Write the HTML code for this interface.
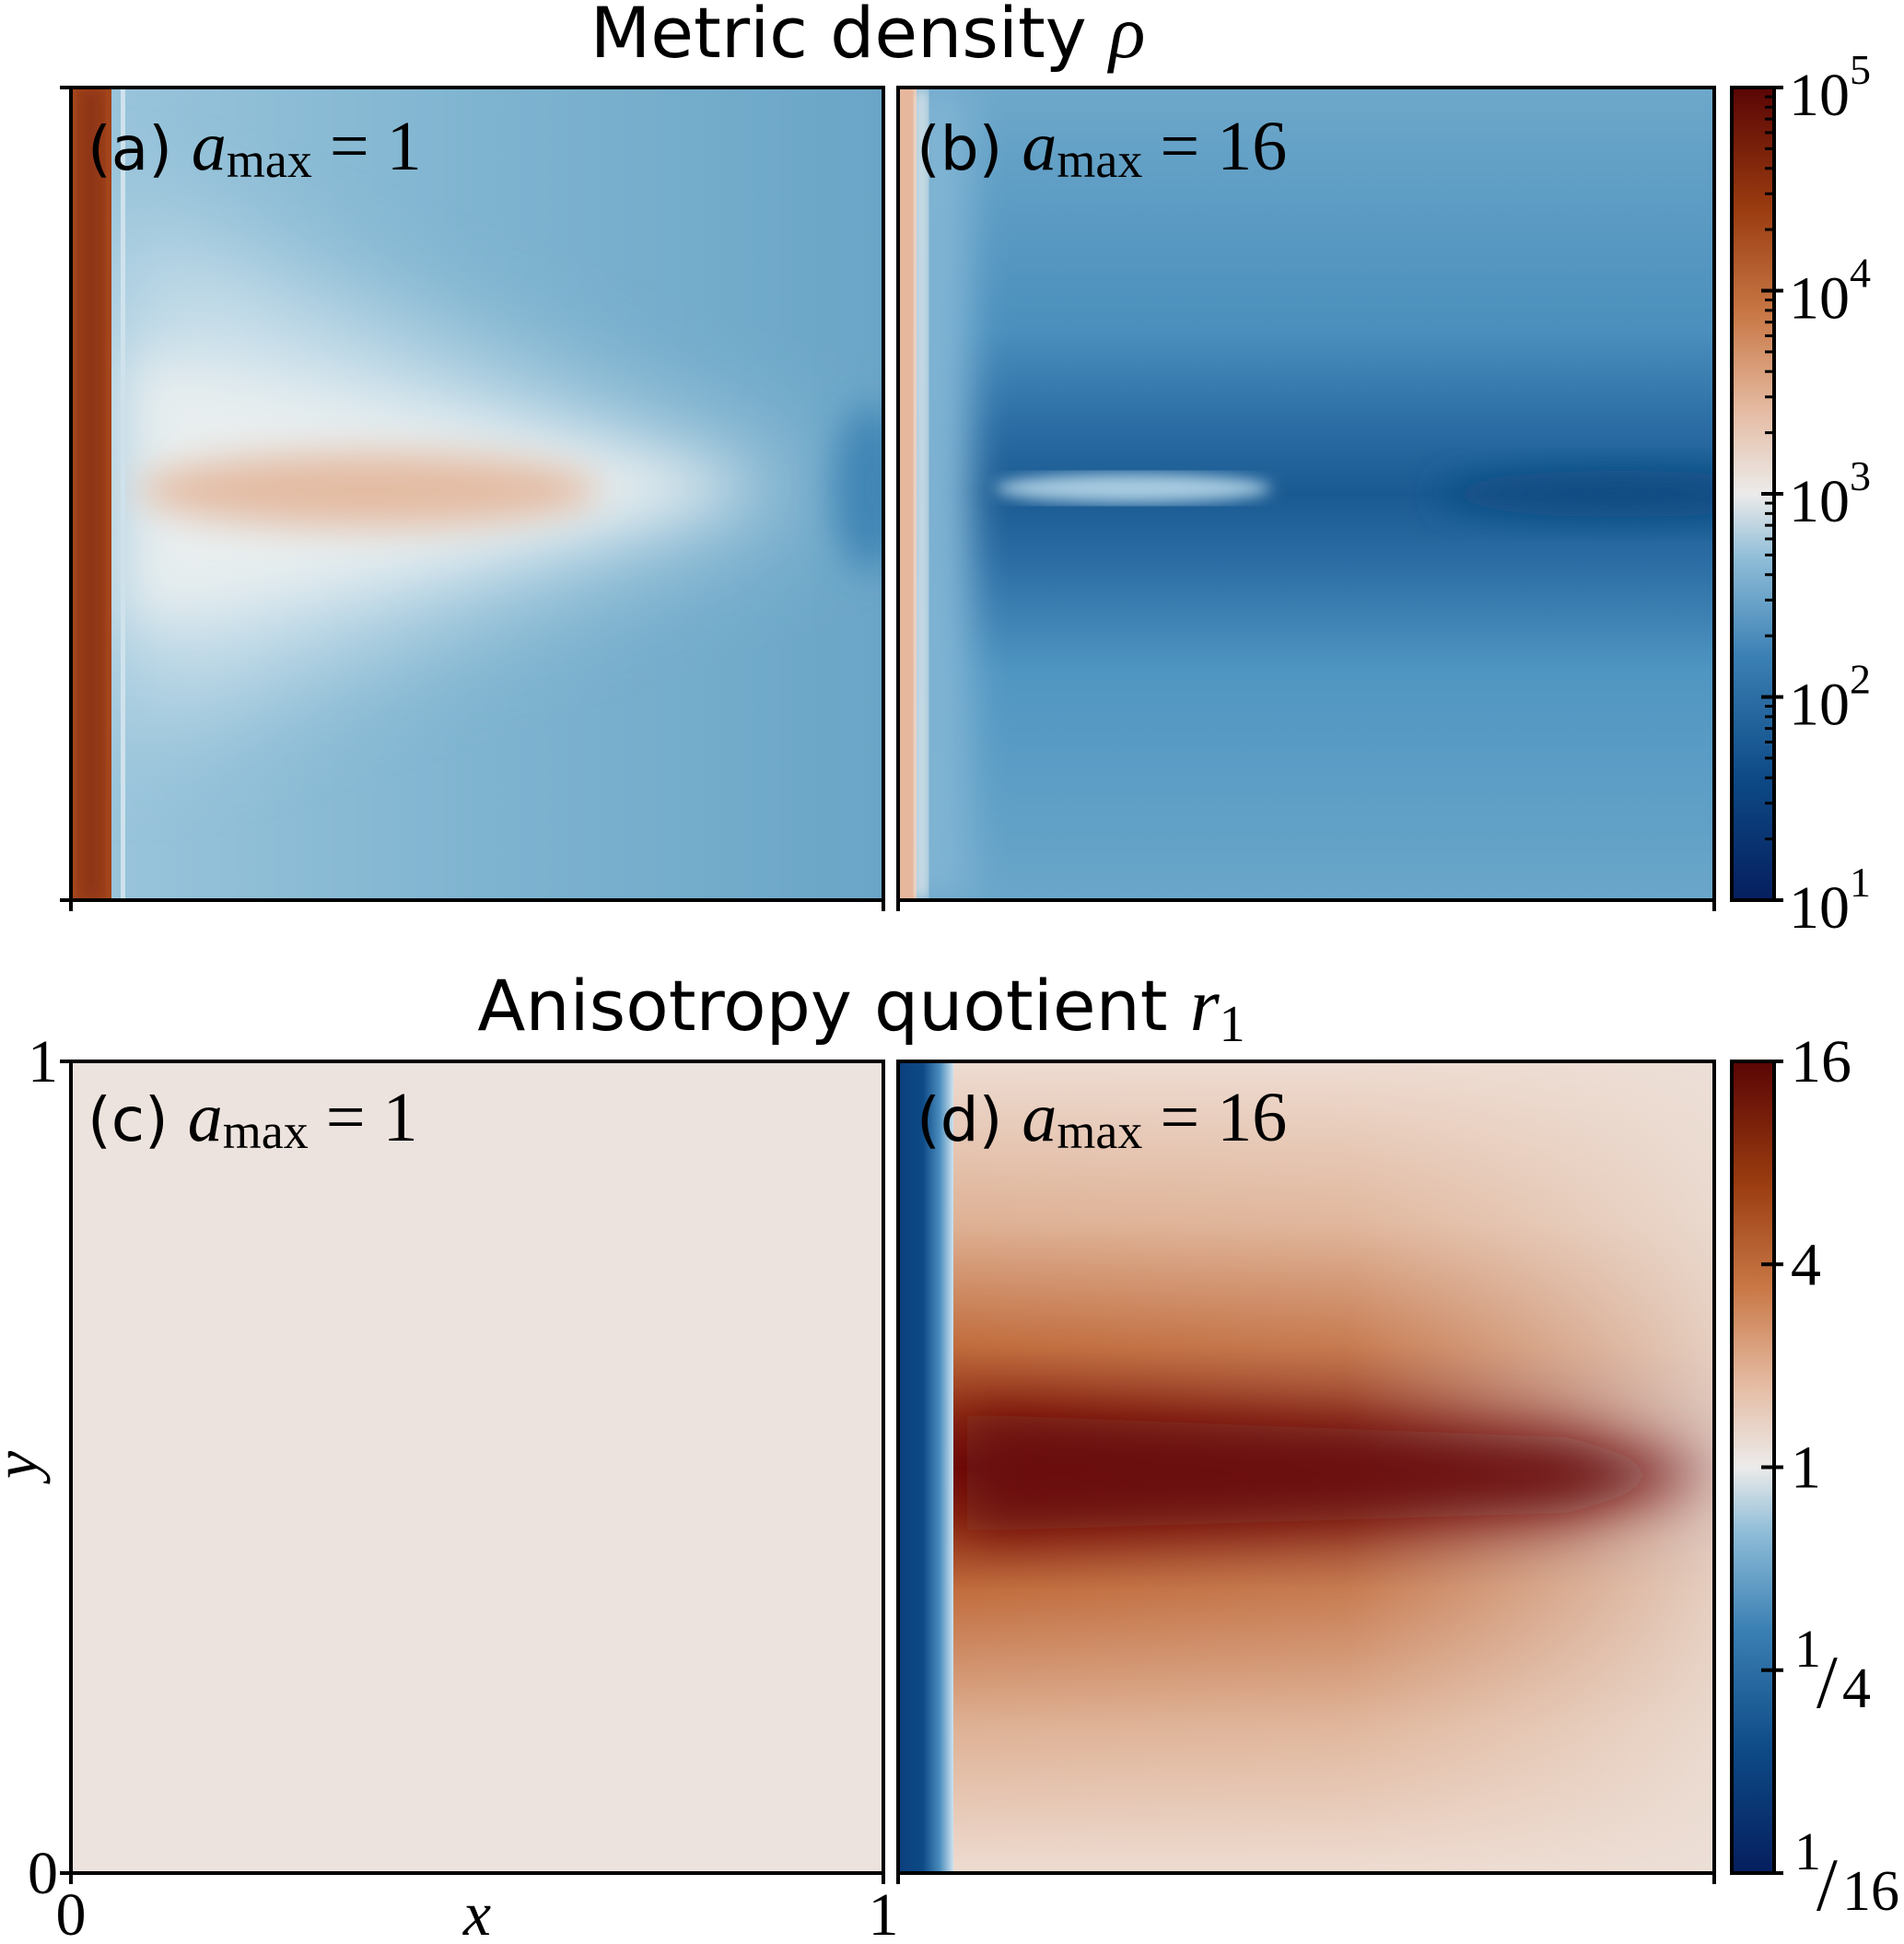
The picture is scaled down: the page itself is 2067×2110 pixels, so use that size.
<!DOCTYPE html>
<html><head><meta charset="utf-8"><style>
html,body{margin:0;padding:0;background:#fff;}
svg{display:block;}
.serif{font-family:"Liberation Serif","DejaVu Serif",serif;}
.sans{font-family:"DejaVu Sans","Liberation Sans",sans-serif;}
</style></head><body>
<svg id="fig" width="2067" height="2110" viewBox="0 0 2067 2110" xmlns="http://www.w3.org/2000/svg">
<defs>
  <linearGradient id="cmap" x1="0" y1="1" x2="0" y2="0">
    <stop offset="0" stop-color="#061e5e"/>
    <stop offset="0.15" stop-color="#0d4a86"/>
    <stop offset="0.3" stop-color="#3b80b4"/>
    <stop offset="0.42" stop-color="#8fbdd8"/>
    <stop offset="0.5" stop-color="#ecebea"/>
    <stop offset="0.6" stop-color="#e5bca4"/>
    <stop offset="0.72" stop-color="#c97846"/>
    <stop offset="0.85" stop-color="#9a3c10"/>
    <stop offset="1" stop-color="#5a0505"/>
  </linearGradient>
  <filter id="blur20" x="-50%" y="-50%" width="200%" height="200%"><feGaussianBlur stdDeviation="20"/></filter>
  <filter id="blur8"><feGaussianBlur stdDeviation="8"/></filter>
  <filter id="blur30" x="-50%" y="-50%" width="200%" height="200%"><feGaussianBlur stdDeviation="30"/></filter>
  <filter id="blur60" x="-50%" y="-50%" width="200%" height="200%"><feGaussianBlur stdDeviation="60"/></filter>
  <clipPath id="clipA"><rect x="77" y="95" width="882" height="882"/></clipPath>
  <clipPath id="clipB"><rect x="975" y="95" width="886" height="882"/></clipPath>
  <clipPath id="clipD"><rect x="975" y="1152" width="886" height="881"/></clipPath>
  <linearGradient id="aBase" x1="0" y1="0" x2="1" y2="0">
    <stop offset="0" stop-color="#9cc6dc"/><stop offset="0.5" stop-color="#7fb4d0"/><stop offset="1" stop-color="#6aa5c7"/>
  </linearGradient>
  <linearGradient id="bBase" x1="0" y1="0" x2="0" y2="1">
    <stop offset="0" stop-color="#6ea8ca"/><stop offset="0.3" stop-color="#4a8fbd"/>
    <stop offset="0.42" stop-color="#2a6ca3"/><stop offset="0.5" stop-color="#1a5a92"/>
    <stop offset="0.58" stop-color="#2a6ca3"/><stop offset="0.72" stop-color="#5096c2"/>
    <stop offset="1" stop-color="#6aa6c9"/>
  </linearGradient>
  <linearGradient id="dBase" x1="0" y1="0" x2="0" y2="1">
    <stop offset="0" stop-color="#eedcd2"/><stop offset="0.2" stop-color="#deb093"/>
    <stop offset="0.35" stop-color="#c06a3a"/><stop offset="0.44" stop-color="#8a2810"/>
    <stop offset="0.5" stop-color="#6a0a08"/><stop offset="0.56" stop-color="#8a2810"/>
    <stop offset="0.65" stop-color="#c06a3a"/><stop offset="0.82" stop-color="#deb093"/>
    <stop offset="1" stop-color="#eedcd2"/>
  </linearGradient>
  <linearGradient id="dFade" x1="0" y1="0" x2="1" y2="0">
    <stop offset="0" stop-color="#eedcd2" stop-opacity="0"/><stop offset="0.55" stop-color="#eedcd2" stop-opacity="0.15"/><stop offset="1" stop-color="#ece0d8" stop-opacity="0.85"/>
  </linearGradient>
  <linearGradient id="dBlue" x1="0" y1="0" x2="1" y2="0">
    <stop offset="0" stop-color="#0b3f7c"/><stop offset="0.45" stop-color="#0d4a86"/><stop offset="0.75" stop-color="#4a8cbd"/><stop offset="1" stop-color="#cde2ee"/>
  </linearGradient>
</defs>

<!-- Panel a -->
<g clip-path="url(#clipA)">
  <rect x="77" y="95" width="882" height="882" fill="url(#aBase)"/>
  <polygon points="130,240 700,470 900,528 700,590 130,790" fill="#cfe2ec" filter="url(#blur60)"/>
  <polygon points="140,380 650,490 820,528 650,570 140,680" fill="#e8eeef" filter="url(#blur30)"/>
  <ellipse cx="945" cy="530" rx="40" ry="90" fill="#3f85b5" filter="url(#blur20)"/>
  <ellipse cx="400" cy="532" rx="250" ry="40" fill="#e4bba3" filter="url(#blur20)"/>
  <rect x="77" y="95" width="44" height="882" fill="#a3441a"/>
  <rect x="86" y="95" width="26" height="882" fill="#8e3512" filter="url(#blur8)"/>
  <rect x="131" y="95" width="5" height="882" fill="#cfe2ec"/>
</g>
<rect x="77" y="95" width="882" height="882" fill="none" stroke="#000" stroke-width="4"/>

<!-- Panel b -->
<g clip-path="url(#clipB)">
  <rect x="975" y="95" width="886" height="882" fill="url(#bBase)"/>
  <ellipse cx="1760" cy="536" rx="200" ry="25" fill="#0d4a80" filter="url(#blur20)"/>
  <ellipse cx="1230" cy="530" rx="150" ry="16" fill="#a9cce1" filter="url(#blur8)"/>
  <rect x="975" y="95" width="80" height="882" fill="#7fb3d3" filter="url(#blur20)"/>
  <rect x="975" y="95" width="20" height="882" fill="#e6b79c"/>
  <rect x="993" y="95" width="14" height="882" fill="#edefee" filter="url(#blur8)"/>
</g>
<rect x="975" y="95" width="886" height="882" fill="none" stroke="#000" stroke-width="4"/>

<!-- Panel c -->
<rect x="77" y="1152" width="882" height="881" fill="#ede3de" stroke="#000" stroke-width="4"/>

<!-- Panel d -->
<g clip-path="url(#clipD)">
  <rect x="975" y="1152" width="886" height="881" fill="url(#dBase)"/>
  <rect x="975" y="1152" width="886" height="881" fill="url(#dFade)"/>
  <polygon points="1050,1535 1700,1560 1861,1601 1700,1642 1050,1662" fill="#6a0a08" filter="url(#blur30)"/>
  <rect x="975" y="1152" width="60" height="881" fill="url(#dBlue)"/>
</g>
<rect x="975" y="1152" width="886" height="881" fill="none" stroke="#000" stroke-width="4"/>

<!-- colorbars -->
<rect x="1880" y="95" width="46" height="882" fill="url(#cmap)" stroke="#000" stroke-width="4"/>
<rect x="1880" y="1152" width="46" height="881" fill="url(#cmap)" stroke="#000" stroke-width="4"/>

<!-- titles -->
<text x="942" y="62" text-anchor="middle" class="sans" font-size="76">Metric density <tspan class="serif" font-style="italic" font-size="82">ρ</tspan></text>
<text x="935" y="1118" text-anchor="middle" class="sans" font-size="76">Anisotropy quotient <tspan class="serif" font-style="italic" font-size="82">r</tspan><tspan class="serif" font-size="56" dy="12">1</tspan></text>

<!-- panel labels -->
<g class="sans" font-size="66">
  <text x="95" y="184">(a) <tspan class="serif" font-style="italic" font-size="76">a</tspan><tspan class="serif" font-size="54" dy="8">max</tspan><tspan class="serif" font-size="76" dy="-8"> = 1</tspan></text>
  <text x="995" y="184">(b) <tspan class="serif" font-style="italic" font-size="76">a</tspan><tspan class="serif" font-size="54" dy="8">max</tspan><tspan class="serif" font-size="76" dy="-8"> = 16</tspan></text>
  <text x="95" y="1238">(c) <tspan class="serif" font-style="italic" font-size="76">a</tspan><tspan class="serif" font-size="54" dy="8">max</tspan><tspan class="serif" font-size="76" dy="-8"> = 1</tspan></text>
  <text x="995" y="1238">(d) <tspan class="serif" font-style="italic" font-size="76">a</tspan><tspan class="serif" font-size="54" dy="8">max</tspan><tspan class="serif" font-size="76" dy="-8"> = 16</tspan></text>
</g>

<!-- axis labels -->
<text x="518" y="2100" text-anchor="middle" class="serif" font-style="italic" font-size="68">x</text>
<text transform="translate(40,1590) rotate(-90)" text-anchor="middle" class="serif" font-style="italic" font-size="68">y</text>
<g id="ticks"></g>
</svg>
<script>
const xTickVals = [0, 1];
const xTickLabels = ['0', '1'];
const yTickVals = [0, 1];
const yTickLabels = ['0', '1'];
const rhoExponents = [1, 2, 3, 4, 5];
const rhoMinorPerDecade = [2, 3, 4, 5, 6, 7, 8, 9];
const r1Exponents = [-4, -2, 0, 2, 4];
const r1Labels = ['1/16', '1/4', '1', '4', '16'];

const NS = 'http://www.w3.org/2000/svg';
const g = document.getElementById('ticks');
const X0 = 77, X1 = 959, XB0 = 975, XB1 = 1861;
const TOP = [95, 977], BOT = [1152, 2033];
const xA = v => X0 + v * (X1 - X0);
const xB = v => XB0 + v * (XB1 - XB0);
const yBot = v => BOT[1] - v * (BOT[1] - BOT[0]);
const rhoY = e => TOP[1] - (e - 1) / 4 * (TOP[1] - TOP[0]);
const r1Y = e => BOT[1] - (e + 4) / 8 * (BOT[1] - BOT[0]);

function line(x1, y1, x2, y2, w) {
  const l = document.createElementNS(NS, 'line');
  l.setAttribute('x1', x1); l.setAttribute('y1', y1);
  l.setAttribute('x2', x2); l.setAttribute('y2', y2);
  l.setAttribute('stroke', '#000'); l.setAttribute('stroke-width', w);
  
  
  g.appendChild(l);
}
function text(x, y, s, anchor, size) {
  const t = document.createElementNS(NS, 'text');
  t.setAttribute('x', x); t.setAttribute('y', y);
  t.setAttribute('text-anchor', anchor);
  t.setAttribute('font-family', '"Liberation Serif","DejaVu Serif",serif');
  t.setAttribute('font-size', size);
  t.textContent = s;
  
  
  g.appendChild(t);
  return t;
}
xTickVals.forEach((v, i) => {
  [TOP[1], BOT[1]].forEach(yb => {
    line(xA(v), yb, xA(v), yb + 12, 4);
    line(xB(v), yb, xB(v), yb + 12, 4);
  });
  text(xA(v), 2100, xTickLabels[i], 'middle', 66);
});
yTickVals.forEach((v, i) => {
  line(X0 - 12, yBot(v), X0, yBot(v), 4);
  line(X0 - 12, TOP[1] - v * (TOP[1] - TOP[0]), X0, TOP[1] - v * (TOP[1] - TOP[0]), 4);
  text(X0 - 14, yBot(v) + 22, yTickLabels[i], 'end', 66);
});
rhoExponents.forEach(e => {
  const y = rhoY(e);
  line(1912, y, 1936, y, 4);
  const t = text(1942, y + 30, '10', 'start', 66);
  const sup = document.createElementNS(NS, 'tspan');
  sup.setAttribute('font-size', 46); sup.setAttribute('dy', -34);
  sup.textContent = String(e);
  t.appendChild(sup);
  if (e < 5) rhoMinorPerDecade.forEach(m => {
    const ym = rhoY(e + Math.log10(m));
    line(1916, ym, 1928, ym, 3);
  });
});
r1Exponents.forEach((e, i) => {
  const y = r1Y(e);
  line(1912, y, 1936, y, 4);
  const lab = r1Labels[i];
  if (lab.indexOf('/') >= 0) {
    const parts = lab.split('/');
    text(1948, y - 4, parts[0], 'start', 58);
    text(1972, y + 40, '/', 'start', 82);
    text(2000, y + 40, parts[1], 'start', 62);
  } else {
    text(1944, y + 22, lab, 'start', 66);
  }
});
</script>
</body></html>
